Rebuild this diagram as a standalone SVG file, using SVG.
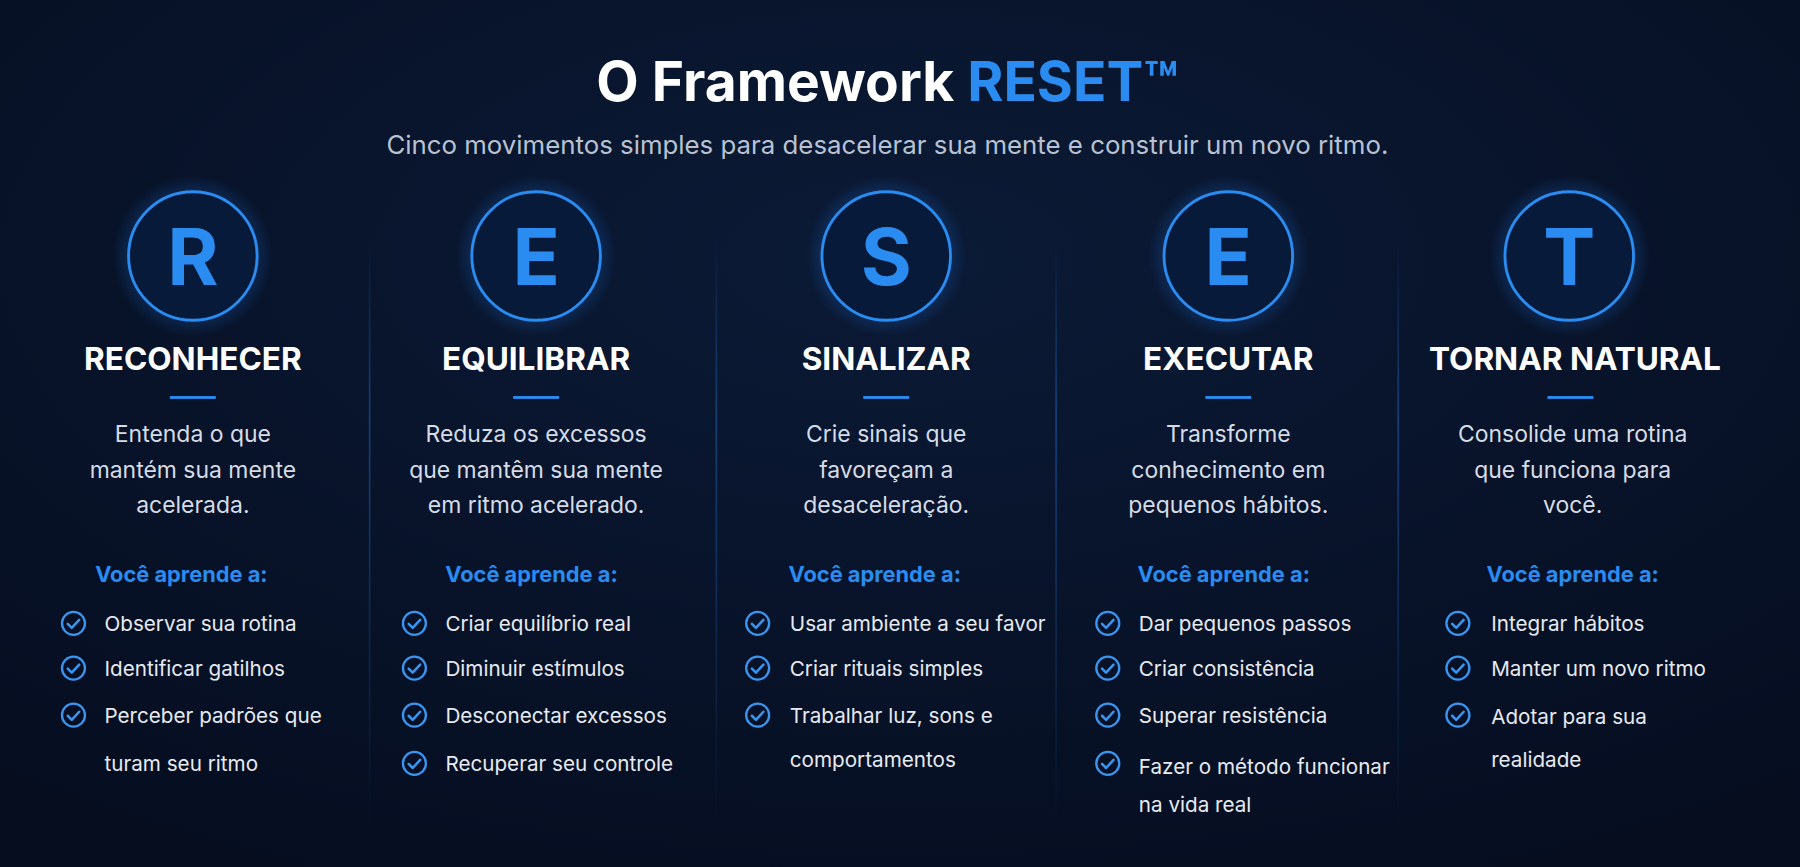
<svg xmlns="http://www.w3.org/2000/svg" width="1800" height="867" viewBox="0 0 1800 867">
<defs>
<radialGradient id="bg" cx="0.5" cy="0.3" r="0.8"><stop offset="0" stop-color="#0b1a36"/><stop offset="1" stop-color="#050d1f"/></radialGradient>
<radialGradient id="glow" cx="0.5" cy="0.5" r="0.5"><stop offset="0.6" stop-color="#1e7cf0" stop-opacity="0.35"/><stop offset="1" stop-color="#1e7cf0" stop-opacity="0"/></radialGradient>
<linearGradient id="div" gradientUnits="userSpaceOnUse" x1="0" y1="210" x2="0" y2="720"><stop offset="0" stop-color="#2a6fc8" stop-opacity="0"/><stop offset="0.3" stop-color="#2a6fc8" stop-opacity="0.45"/><stop offset="1" stop-color="#2a6fc8" stop-opacity="0"/></linearGradient>
<g id="chk"><circle r="10" fill="none" stroke="#3a95f0" stroke-width="2"/><path d="M-5,0.5 L-1.5,4 L5,-3" fill="none" stroke="#3a95f0" stroke-width="2.2" stroke-linecap="round" stroke-linejoin="round"/></g>
</defs>
<style>
text{font-family:Inter,"Liberation Sans",sans-serif}
.ttl{font-size:48px;font-weight:700;fill:#fff}
.sub{font-size:22.5px;fill:#b8c2d2}
.let{font-size:68px;font-weight:700;fill:#2a8cf0}
.hd{font-size:27.5px;font-weight:700;fill:#fff}
.ds{font-size:20px;fill:#d6dce6}
.ap{font-size:19px;font-weight:700;fill:#2a8cf0}
.it{font-size:18px;fill:#e6eaf0}
.ring{fill:#081a3a;stroke:#2a8cf0;stroke-width:2.5}
</style>
<rect width="1800" height="867" fill="url(#bg)"/>
<g transform="scale(1.14796)">
<text class="ttl" x="773" y="88" text-anchor="middle">O Framework <tspan fill="#2a8cf0">RESET™</tspan></text>
<text class="sub" x="773" y="134" text-anchor="middle">Cinco movimentos simples para desacelerar sua mente e construir um novo ritmo.</text>
<g id="connectors" stroke="url(#div)" stroke-width="1.5">
<line x1="322" y1="210" x2="322" y2="720"/><line x1="624" y1="210" x2="624" y2="720"/><line x1="920" y1="210" x2="920" y2="720"/><line x1="1218" y1="210" x2="1218" y2="720"/>
</g>
<g id="r" text-anchor="middle">
<circle cx="168" cy="223" r="70" fill="url(#glow)"/><circle class="ring" cx="168" cy="223" r="56"/>
<text class="let" x="168" y="248">R</text>
<text class="hd" x="168" y="322">RECONHECER</text>
<rect x="148" y="345" width="40" height="2.5" fill="#2a8cf0"/>
<text class="ds" x="168" y="385">Entenda o que</text><text class="ds" x="168" y="416">mantém sua mente</text><text class="ds" x="168" y="447">acelerada.</text>
<text class="ap" x="158" y="507">Você aprende a:</text>
<g text-anchor="start"><use href="#chk" x="64" y="543"/><use href="#chk" x="64" y="582"/><use href="#chk" x="64" y="623"/>
<text class="it" x="91" y="550">Observar sua rotina</text><text class="it" x="91" y="589">Identificar gatilhos</text><text class="it" x="91" y="630">Perceber padrões que</text><text class="it" x="91" y="672">turam seu ritmo</text></g>
</g>
<g id="e1" text-anchor="middle">
<circle cx="467" cy="223" r="70" fill="url(#glow)"/><circle class="ring" cx="467" cy="223" r="56"/>
<text class="let" x="467" y="248">E</text>
<text class="hd" x="467" y="322">EQUILIBRAR</text>
<rect x="447" y="345" width="40" height="2.5" fill="#2a8cf0"/>
<text class="ds" x="467" y="385">Reduza os excessos</text><text class="ds" x="467" y="416">que mantêm sua mente</text><text class="ds" x="467" y="447">em ritmo acelerado.</text>
<text class="ap" x="463" y="507">Você aprende a:</text>
<g text-anchor="start"><use href="#chk" x="361" y="543"/><use href="#chk" x="361" y="582"/><use href="#chk" x="361" y="623"/><use href="#chk" x="361" y="665"/>
<text class="it" x="388" y="550">Criar equilíbrio real</text><text class="it" x="388" y="589">Diminuir estímulos</text><text class="it" x="388" y="630">Desconectar excessos</text><text class="it" x="388" y="672">Recuperar seu controle</text></g>
</g>
<g id="s" text-anchor="middle">
<circle cx="772" cy="223" r="70" fill="url(#glow)"/><circle class="ring" cx="772" cy="223" r="56"/>
<text class="let" x="772" y="248">S</text>
<text class="hd" x="772" y="322">SINALIZAR</text>
<rect x="752" y="345" width="40" height="2.5" fill="#2a8cf0"/>
<text class="ds" x="772" y="385">Crie sinais que</text><text class="ds" x="772" y="416">favoreçam a</text><text class="ds" x="772" y="447">desaceleração.</text>
<text class="ap" x="762" y="507">Você aprende a:</text>
<g text-anchor="start"><use href="#chk" x="660" y="543"/><use href="#chk" x="660" y="582"/><use href="#chk" x="660" y="623"/>
<text class="it" x="688" y="550">Usar ambiente a seu favor</text><text class="it" x="688" y="589">Criar rituais simples</text><text class="it" x="688" y="630">Trabalhar luz, sons e</text><text class="it" x="688" y="668">comportamentos</text></g>
</g>
<g id="e2" text-anchor="middle">
<circle cx="1070" cy="223" r="70" fill="url(#glow)"/><circle class="ring" cx="1070" cy="223" r="56"/>
<text class="let" x="1070" y="248">E</text>
<text class="hd" x="1070" y="322">EXECUTAR</text>
<rect x="1050" y="345" width="40" height="2.5" fill="#2a8cf0"/>
<text class="ds" x="1070" y="385">Transforme</text><text class="ds" x="1070" y="416">conhecimento em</text><text class="ds" x="1070" y="447">pequenos hábitos.</text>
<text class="ap" x="1066" y="507">Você aprende a:</text>
<g text-anchor="start"><use href="#chk" x="965" y="543"/><use href="#chk" x="965" y="582"/><use href="#chk" x="965" y="623"/><use href="#chk" x="965" y="665"/>
<text class="it" x="992" y="550">Dar pequenos passos</text><text class="it" x="992" y="589">Criar consistência</text><text class="it" x="992" y="630">Superar resistência</text><text class="it" x="992" y="674">Fazer o método funcionar</text><text class="it" x="992" y="707">na vida real</text></g>
</g>
<g id="t" text-anchor="middle">
<circle cx="1367" cy="223" r="70" fill="url(#glow)"/><circle class="ring" cx="1367" cy="223" r="56"/>
<text class="let" x="1367" y="248">T</text>
<text class="hd" x="1372" y="322">TORNAR NATURAL</text>
<rect x="1348" y="345" width="40" height="2.5" fill="#2a8cf0"/>
<text class="ds" x="1370" y="385">Consolide uma rotina</text><text class="ds" x="1370" y="416">que funciona para</text><text class="ds" x="1370" y="447">você.</text>
<text class="ap" x="1370" y="507">Você aprende a:</text>
<g text-anchor="start"><use href="#chk" x="1270" y="543"/><use href="#chk" x="1270" y="582"/><use href="#chk" x="1270" y="623"/>
<text class="it" x="1299" y="550">Integrar hábitos</text><text class="it" x="1299" y="589">Manter um novo ritmo</text><text class="it" x="1299" y="631">Adotar para sua</text><text class="it" x="1299" y="668">realidade</text></g>
</g>
</g>
</svg>
